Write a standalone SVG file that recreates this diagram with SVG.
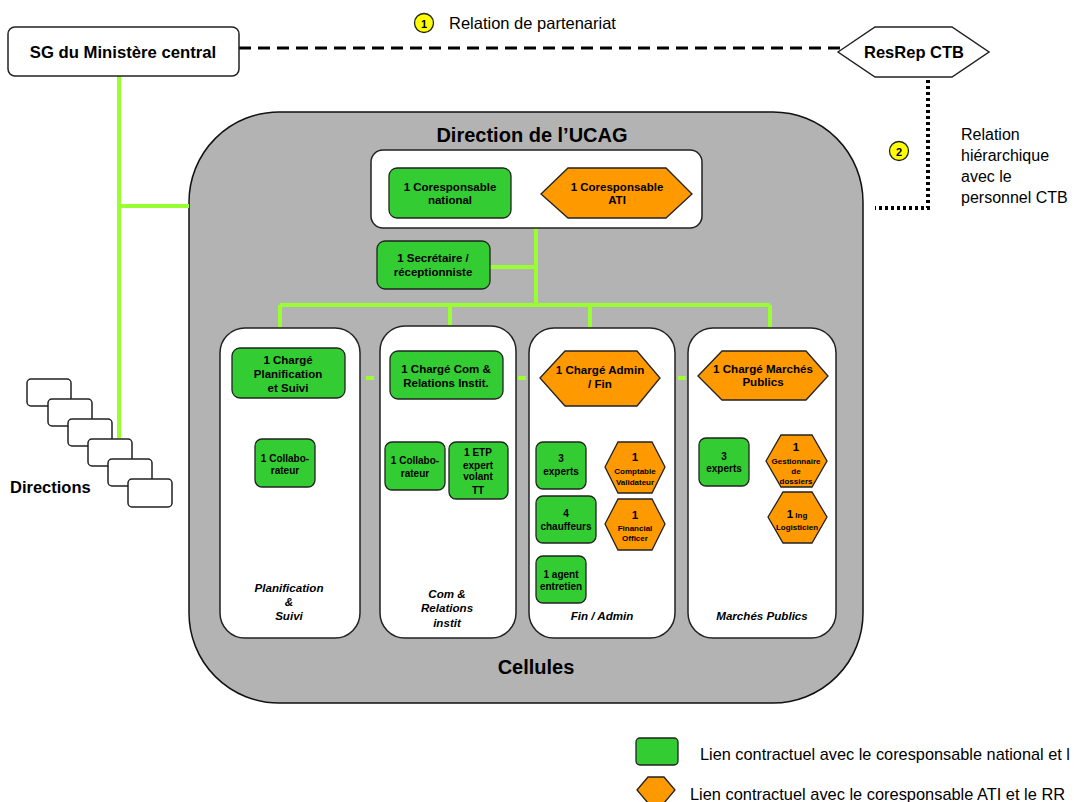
<svg xmlns="http://www.w3.org/2000/svg" width="1074" height="802" viewBox="0 0 1074 802">
<style>
text{font-family:"Liberation Sans",Arial,sans-serif;fill:#000;text-anchor:middle}
.b{font-weight:bold}
.it{font-weight:bold;font-style:italic;font-size:11.6px}
.g{fill:#33cc33;stroke:#222;stroke-width:1.3}
.o{fill:#ff9900;stroke:#222;stroke-width:1.3}
.w{fill:#fff;stroke:#222;stroke-width:1.5}
.ln{stroke:#99ff33;stroke-width:4;fill:none}
.t11{font-size:11.5px;font-weight:bold}
.t12{font-size:11.6px;font-weight:bold}
.t10{font-size:10px;font-weight:bold}
.t8{font-size:8px;font-weight:bold}
.reg{font-size:16px;text-anchor:start}
.leg{font-size:16.4px;text-anchor:start}
</style>
<rect width="1074" height="802" fill="#fff"/>

<g id="ucag">
<rect x="189" y="112" width="674" height="591" rx="90" ry="90" fill="#b3b3b3" stroke="#111" stroke-width="1.5"/>
<text x="532" y="142" class="b" font-size="20">Direction de l’UCAG</text>
<text x="536" y="674" class="b" font-size="20">Cellules</text>
</g>

<g id="connectors">
<path class="ln" d="M119 76 V438 M119 206 H189"/>
<path class="ln" d="M536 228 V305 M490 267 H536 M280 305 H770 M280 305 V328 M450 305 V326 M590 305 V328 M770 305 V328"/>
<path class="ln" d="M366 378 H374 M518 378 H526 M678 378 H686"/>
<path class="ln" d="M286 398 V439"/>
<path class="ln" d="M446 399 V417 M416 417 H473 M416 417 V438 M473 417 V438"/>
<path class="ln" d="M599 406 V417 M570 417 H628 M570 417 V439 M628 417 V439"/>
<path class="ln" d="M764 400 V413 M735 413 H793 M735 413 V433 M793 413 V433"/>
<path d="M239 48 H840" stroke="#000" stroke-width="3" stroke-dasharray="12 7" fill="none"/>
<path d="M928 80 V208 H875" stroke="#000" stroke-width="4" stroke-dasharray="3 3" fill="none"/>
</g>

<g id="sg">
<rect class="w" x="8" y="27" width="231" height="49" rx="7"/>
<text x="123" y="58" class="b" font-size="16.7">SG du Ministère central</text>
</g>

<g id="resrep">
<polygon class="w" points="838,52 875,27 952,27 989,52 952,77 875,77"/>
<text x="914" y="58" class="b" font-size="16.5">ResRep CTB</text>
</g>

<g id="label1">
<circle cx="424" cy="23" r="9.5" fill="#ffff00" stroke="#222" stroke-width="1.3"/>
<text x="424" y="27.5" class="b" font-size="11">1</text>
<text x="449" y="29" class="reg" style="font-size:16.5px">Relation de partenariat</text>
</g>

<g id="label2">
<circle cx="899" cy="151" r="9.5" fill="#ffff00" stroke="#222" stroke-width="1.3"/>
<text x="899" y="155.5" class="b" font-size="11">2</text>
<text x="961" y="140" class="reg">Relation</text>
<text x="961" y="161" class="reg">hiérarchique</text>
<text x="961" y="182" class="reg">avec le</text>
<text x="961" y="203" class="reg">personnel CTB</text>
</g>

<g id="directions">
<rect class="w" x="27" y="379" width="44" height="27" rx="4"/>
<rect class="w" x="48" y="399" width="44" height="27" rx="4"/>
<rect class="w" x="68" y="419" width="44" height="27" rx="4"/>
<rect class="w" x="88" y="439" width="44" height="27" rx="4"/>
<rect class="w" x="108" y="459" width="44" height="27" rx="4"/>
<rect class="w" x="128" y="479" width="44" height="28" rx="4"/>
<text x="10" y="493" class="b" font-size="16.5" style="text-anchor:start">Directions</text>
</g>

<g id="direction-box">
<rect class="w" x="371" y="150" width="331" height="78" rx="12"/>
</g>
<g id="coresp-national">
<rect class="g" x="389" y="168" width="122" height="50" rx="8"/>
<text x="450" y="191" class="t11">1 Coresponsable</text>
<text x="450" y="204" class="t11">national</text>
</g>
<g id="coresp-ati">
<polygon class="o" points="541,194 568,168 666,168 692,194 666,218 568,218"/>
<text x="617" y="191" class="t11">1 Coresponsable</text>
<text x="617" y="204" class="t11">ATI</text>
</g>
<g id="secretaire">
<rect class="g" x="377" y="241" width="113" height="48" rx="8"/>
<text x="433" y="262" class="t11">1 Secrétaire /</text>
<text x="433" y="276" class="t11">réceptionniste</text>
</g>

<g id="cell-planif">
<rect class="w" x="220" y="328" width="140" height="310" rx="25"/>
<text x="289" y="592" class="it">Planification</text>
<text x="289" y="606" class="it">&amp;</text>
<text x="289" y="620" class="it">Suivi</text>
</g>
<g id="cell-com">
<rect class="w" x="380" y="326" width="136" height="312" rx="25"/>
<text x="447" y="598" class="it">Com &amp;</text>
<text x="447" y="612" class="it">Relations</text>
<text x="447" y="627" class="it">instit</text>
</g>
<g id="cell-fin">
<rect class="w" x="529" y="328" width="146" height="310" rx="25"/>
<text x="602" y="620" class="it">Fin / Admin</text>
</g>
<g id="cell-mp">
<rect class="w" x="688" y="328" width="148" height="310" rx="25"/>
<text x="762" y="620" class="it">Marchés Publics</text>
</g>

<g id="charge-planif">
<rect class="g" x="232" y="348" width="113" height="50" rx="8"/>
<text x="288" y="364" class="t11">1 Chargé</text>
<text x="288" y="378" class="t11">Planification</text>
<text x="288" y="392" class="t11">et Suivi</text>
</g>
<g id="collab-planif">
<rect class="g" x="255" y="439" width="60" height="48" rx="7"/>
<text x="285" y="462" class="t10">1 Collabo-</text>
<text x="285" y="474" class="t10">rateur</text>
</g>

<g id="charge-com">
<rect class="g" x="390" y="351" width="113" height="48" rx="8"/>
<text x="446" y="373" class="t11">1 Chargé Com &amp;</text>
<text x="446" y="387" class="t11">Relations Instit.</text>
</g>
<g id="collab-com">
<rect class="g" x="385" y="442" width="60" height="48" rx="7"/>
<text x="415" y="464" class="t10">1 Collabo-</text>
<text x="415" y="477" class="t10">rateur</text>
</g>
<g id="etp">
<rect class="g" x="449" y="442" width="59" height="57" rx="7"/>
<text x="478" y="456" class="t10">1 ETP</text>
<text x="478" y="469" class="t10">expert</text>
<text x="478" y="480" class="t10">volant</text>
<text x="478" y="494" class="t10">TT</text>
</g>

<g id="charge-admin">
<polygon class="o" points="540,378 565,351 637,351 660,378 637,406 565,406"/>
<text x="600" y="374" class="t12">1 Chargé Admin</text>
<text x="600" y="388" class="t12">/ Fin</text>
</g>
<g id="experts-fin">
<rect class="g" x="536" y="442" width="50" height="47" rx="7"/>
<text x="561" y="462" class="t10">3</text>
<text x="561" y="475" class="t10">experts</text>
</g>
<g id="comptable">
<polygon class="o" points="605,467 618,442 652,442 665,467 652,493 618,493"/>
<text x="635" y="461" class="t11">1</text>
<text x="635" y="474" class="t8">Comptable</text>
<text x="635" y="485" class="t8">Validateur</text>
</g>
<g id="chauffeurs">
<rect class="g" x="536" y="496" width="60" height="47" rx="7"/>
<text x="566" y="517" class="t10">4</text>
<text x="566" y="530" class="t10">chauffeurs</text>
</g>
<g id="financial">
<polygon class="o" points="605,524 618,499 652,499 665,524 652,550 618,550"/>
<text x="635" y="519" class="t11">1</text>
<text x="635" y="531" class="t8">Financial</text>
<text x="635" y="541" class="t8">Officer</text>
</g>
<g id="agent">
<rect class="g" x="536" y="556" width="50" height="47" rx="7"/>
<text x="561" y="578" class="t10">1 agent</text>
<text x="561" y="590" class="t10">entretien</text>
</g>

<g id="charge-mp">
<polygon class="o" points="698,376 722,351 806,351 828,376 806,400 722,400"/>
<text x="763" y="373" class="t12">1 Chargé Marchés</text>
<text x="763" y="386" class="t12">Publics</text>
</g>
<g id="experts-mp">
<rect class="g" x="699" y="438" width="50" height="48" rx="7"/>
<text x="724" y="460" class="t10">3</text>
<text x="724" y="472" class="t10">experts</text>
</g>
<g id="gestionnaire">
<polygon class="o" points="766,461 781,435 812,435 827,461 812,487 781,487"/>
<text x="796" y="451" class="t11">1</text>
<text x="796" y="464" class="t8">Gestionnaire</text>
<text x="796" y="474" class="t8">de</text>
<text x="796" y="484" class="t8">dossiers</text>
</g>
<g id="logisticien">
<polygon class="o" points="768,517 783,492 812,492 827,517 812,543 783,543"/>
<text x="797" y="518"><tspan class="t11">1</tspan><tspan class="t8"> Ing</tspan></text>
<text x="797" y="530" class="t8">Logisticien</text>
</g>

<g id="legend">
<rect class="g" x="636" y="738" width="42" height="27" rx="4"/>
<text x="700" y="760" class="leg" textLength="370" lengthAdjust="spacingAndGlyphs">Lien contractuel avec le coresponsable national et l</text>
<polygon class="o" points="637,790 648,777 664,777 675,790 664,803 648,803"/>
<text x="690" y="800" class="leg">Lien contractuel avec le coresponsable ATI et le RR</text>
</g>
</svg>
